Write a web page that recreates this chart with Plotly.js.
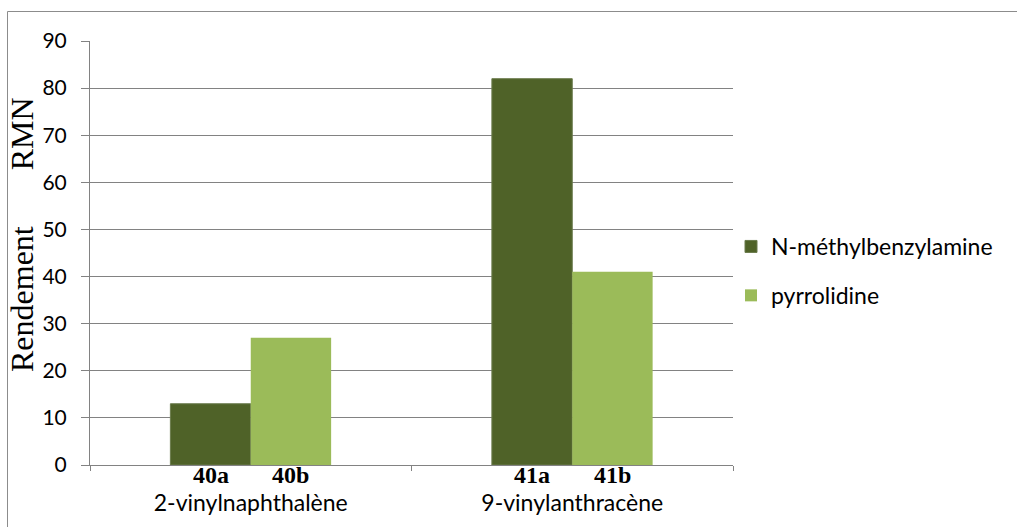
<!DOCTYPE html>
<html>
<head>
<meta charset="utf-8">
<script src="https://cdn.plot.ly/plotly-3.0.1.min.js"></script>
<style>
html,body{margin:0;padding:0;background:#fff;}
#chart{width:1017px;height:527px;}
</style>
</head>
<body>
<div id="chart"></div>
<script>
// ---- data ----
const categories = ["2-vinylnaphthalène", "9-vinylanthracène"];
const seriesNames = ["N-méthylbenzylamine", "pyrrolidine"];
const nMethylValues = [13, 82];
const pyrrolidineValues = [27, 41];
const barLabelsA = ["40a", "41a"];
const barLabelsB = ["40b", "41b"];
const yTickValues = [0, 10, 20, 30, 40, 50, 60, 70, 80, 90];
const yTitleWords = ["Rendement", "RMN"];

// ---- layout helpers ----
const W = 1017, H = 527;
const M = {l: 90, r: 284, t: 41, b: 62};
const plotW = W - M.l - M.r, plotH = H - M.t - M.b;
const bargap = 0.5;
const nSeries = 2;
const barOffset = (1 - bargap) / nSeries / 2;
const px2paperX = p => (p - M.l) / plotW;
const px2paperY = p => (H - M.b - p) / plotH;

const serif = "Liberation Serif, Times New Roman, serif";
const sans = "Lato, Carlito, Calibri, sans-serif";
const gray = "#828282";

const traces = [
  {type: "bar", name: seriesNames[0], x: categories, y: nMethylValues,
   marker: {color: "#4F6228", line: {color: "#6a7b4c", width: 1}},
   legendgroup: "a", hoverinfo: "y"},
  {type: "bar", name: seriesNames[1], x: categories, y: pyrrolidineValues,
   marker: {color: "#9BBB59", line: {color: "#9BBB59", width: 0}},
   legendgroup: "b", hoverinfo: "y"}
];

const annotations = [];
categories.forEach((c, i) => {
  annotations.push({xref: "x", yref: "paper", x: i - barOffset, y: 0, yshift: -10,
    text: "<b>" + barLabelsA[i] + "</b>", showarrow: false, yanchor: "middle",
    font: {family: serif, size: 24, color: "#000"}});
  annotations.push({xref: "x", yref: "paper", x: i + barOffset, y: 0, yshift: -10,
    text: "<b>" + barLabelsB[i] + "</b>", showarrow: false, yanchor: "middle",
    font: {family: serif, size: 24, color: "#000"}});
});
annotations.push({xref: "paper", yref: "paper", x: px2paperX(22), y: px2paperY(235),
  text: yTitleWords.join("\u00A0\u00A0\u00A0\u00A0\u00A0\u00A0\u00A0"), textangle: -90, showarrow: false,
  xanchor: "center", yanchor: "middle",
  font: {family: serif, size: 32, color: "#000"}});

const layout = {
  width: W, height: H,
  margin: M,
  paper_bgcolor: "#fff", plot_bgcolor: "#fff",
  bargap: bargap, bargroupgap: 0,
  showlegend: true,
  legend: {x: px2paperX(731), xanchor: "left", y: px2paperY(225), yanchor: "top",
    traceorder: "grouped", tracegroupgap: 16,
    font: {family: sans, size: 23, color: "#000"}, itemwidth: 30,
    bgcolor: "rgba(0,0,0,0)"},
  xaxis: {type: "category", tickson: "boundaries", ticks: "outside", ticklen: 5,
    tickcolor: gray, tickwidth: 1,
    showline: true, linecolor: gray, linewidth: 1, showgrid: false,
    ticklabelstandoff: 17,
    tickfont: {family: sans, size: 23, color: "#000"}, fixedrange: true},
  yaxis: {range: [0, 90], tickvals: yTickValues, ticks: "outside", ticklen: 8,
    tickcolor: gray, tickwidth: 1,
    showline: true, linecolor: gray, linewidth: 1,
    showgrid: true, gridcolor: gray, gridwidth: 1.2, zeroline: false,
    ticklabelstandoff: 10,
    tickfont: {family: sans, size: 21, color: "#000"}, fixedrange: true},
  annotations: annotations,
  shapes: [{type: "rect", xref: "paper", yref: "paper",
    x0: px2paperX(7.5), x1: px2paperX(1030), y0: px2paperY(540), y1: px2paperY(11.5),
    line: {color: "#8c8c8c", width: 1}, layer: "below"}]
};

Plotly.newPlot("chart", traces, layout, {staticPlot: true, displayModeBar: false});
</script>
</body>
</html>
